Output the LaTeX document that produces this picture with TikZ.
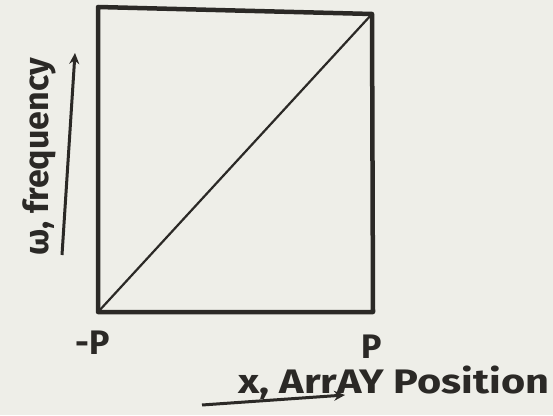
\documentclass[tikz,border=0pt]{standalone}
\usepackage{fontspec}
\setmainfont{Fira Sans}
\usetikzlibrary{arrows.meta}
\definecolor{ink}{HTML}{2B2926}
\definecolor{paper}{HTML}{EEEEE8}
\begin{document}
\begin{tikzpicture}[x=1pt,y=1pt,
  frame/.style={draw=ink,line width=4.5pt,line cap=round,line join=round},
  diag/.style={draw=ink,line width=2.2pt},
  hand/.style={text=ink,font=\fontsize{34}{36}\selectfont\bfseries,inner sep=0pt},
  axisarrow/.style={draw=ink,line width=3pt,-{Stealth[length=11pt,width=10pt]}}]
\fill[paper] (0,0) rectangle (553,415);
\useasboundingbox (0,0) rectangle (553,415);
\coordinate (tl) at (98,408);
\coordinate (tr) at (372,401);
\coordinate (br) at (373,103);
\coordinate (bl) at (98,103);
\draw[frame] (tl) -- (tr) -- (br) -- (bl) -- cycle;
\draw[diag] (bl) -- (tr);
\node[hand] (mp) at (93,72) {-P};
\node[hand] (pp) at (372,68) {P};
\node[hand,anchor=west,xscale=1.22] (xl) at (238,32) {x, ArrAY Position};
\coordinate (xa) at (202,10);
\coordinate (xb) at (345,20);
\draw[axisarrow] (xa) -- (xb);
\node[hand,rotate=90] (wl) at (39,258) {ω, frequency};
\coordinate (wa) at (62,160);
\coordinate (wb) at (75,362);
\draw[axisarrow] (wa) -- (wb);
\end{tikzpicture}
\end{document}
